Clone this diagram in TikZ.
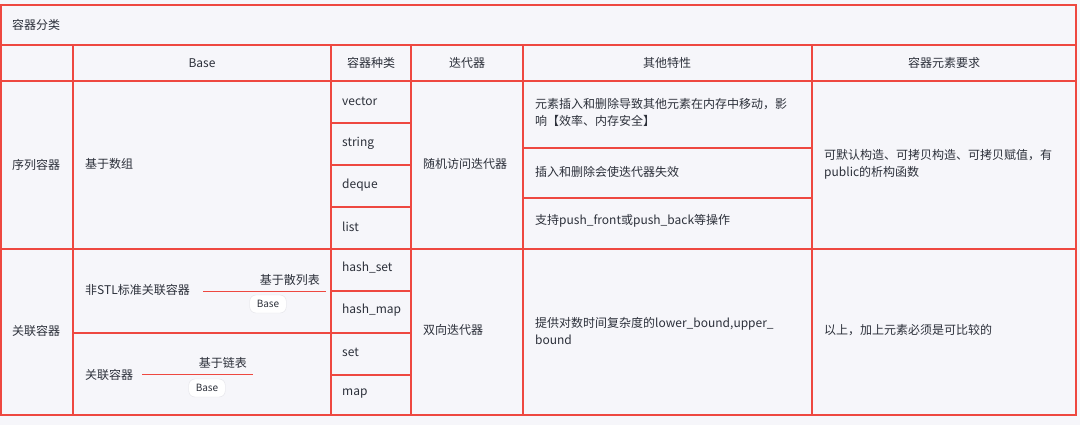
\documentclass[tikz,border=0pt]{standalone}
\usepackage{fontspec}
\setmainfont{Noto Sans CJK SC}
\definecolor{gridred}{RGB}{238,72,64}
\definecolor{paper}{RGB}{246,246,250}
\definecolor{ink}{RGB}{44,48,58}
\definecolor{pillline}{RGB}{226,226,232}
\tikzset{
  cell/.style={anchor=west,inner sep=0pt,text=ink,font=\fontsize{12}{17}\selectfont,align=left},
  head/.style={inner sep=0pt,text=ink,font=\fontsize{12}{17}\selectfont},
  pill/.style={draw=pillline,fill=white,rounded corners=6pt,inner xsep=7pt,inner ysep=3pt,
    text=ink,font=\fontsize{10}{11}\selectfont,minimum height=18pt},
  branch/.style={draw=gridred,line width=1pt}
}
\begin{document}
\begin{tikzpicture}[x=1pt,y=-1pt]
   \useasboundingbox[fill=paper] (0,0) rectangle (1080,425);

   % grid
   \begin{scope}[draw=gridred,line width=1.8pt]
   \draw (1,5) rectangle (1076,415);
   \draw (1,45) -- (1076,45);
   \draw (1,81) -- (1076,81);
   \draw (1,249) -- (1076,249);
   \foreach \x in {73,331,411,523,812}
      \draw (\x,45) -- (\x,415);
   \foreach \y in {123,165,207,291,333,375}
      \draw (331,\y) -- (411,\y);
   \draw (523,148) -- (812,148);
   \draw (523,198) -- (812,198);
   \draw (73,333) -- (331,333);
   \end{scope}

   \node[cell] (t0) at (12,25) {容器分类};

   \node[head] (h1) at (202,63) {Base};
   \node[head] (h2) at (371,63) {容器种类};
   \node[head] (h3) at (467,63) {迭代器};
   \node[head] (h4) at (667,63) {其他特性};
   \node[head] (h5) at (944,63) {容器元素要求};

   \node[cell] (s0) at (12,165) {序列容器};
   \node[cell] (s1) at (85,164) {基于数组};
   \node[cell] (k1) at (342,101) {vector};
   \node[cell] (k2) at (342,143) {string};
   \node[cell] (k3) at (342,185) {deque};
   \node[cell] (k4) at (342,227) {list};
   \node[cell] (i1) at (423,164) {随机访问迭代器};
   \node[cell] (f1) at (535,112) {元素插入和删除导致其他元素在内存中移动，影\\响【效率、内存安全】};
   \node[cell] (f2) at (535,172) {插入和删除会使迭代器失效};
   \node[cell] (f3) at (535,221) {支持push\_front或push\_back等操作};
   \node[cell] (r1) at (824,164) {可默认构造、可拷贝构造、可拷贝赋值，有\\public的析构函数};

   \node[cell] (a0) at (12,331) {关联容器};
   \node[cell] (a1) at (85,290) {非STL标准关联容器};
   \node[cell] (a2) at (85,375) {关联容器};
   \node[cell] (k5) at (342,268) {hash\_set};
   \node[cell] (k6) at (342,310) {hash\_map};
   \node[cell] (k7) at (342,352) {set};
   \node[cell] (k8) at (342,394) {map};
   \node[cell] (i2) at (423,330) {双向迭代器};
   \node[cell] (f4) at (535,331) {提供对数时间复杂度的lower\_bound,upper\_\\bound};
   \node[cell] (r2) at (824,330) {以上，加上元素必须是可比较的};

   % branches
   \coordinate (b1) at (203,291);
   \coordinate (e1) at (326,291);
   \coordinate (b2) at (142,374);
   \coordinate (e2) at (253,374);
   \path[branch] (b1) edge (e1);
   \path[branch] (b2) edge (e2);
   \node[head,anchor=south east] (l1) at ([xshift=-6pt,yshift=5pt]e1) {基于散列表};
   \node[head,anchor=south east] (l2) at ([xshift=-6pt,yshift=5pt]e2) {基于链表};
   \node[pill] (p1) at (268,304) {Base};
   \node[pill] (p2) at (207,388) {Base};
\end{tikzpicture}
\end{document}
